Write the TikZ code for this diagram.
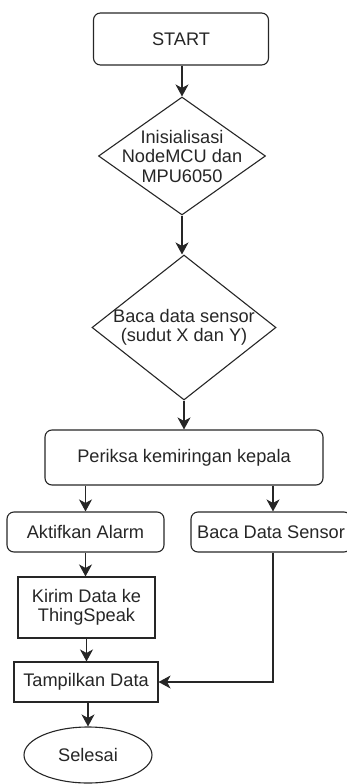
\documentclass[tikz,border=0pt]{standalone}
\usepackage{fontspec}
\setmainfont{Liberation Sans}
\usetikzlibrary{shapes.geometric,arrows.meta}

\tikzset{
  base/.style={draw=black!85, line width=1.1pt, inner sep=0pt, text=black!85,
               font=\fontsize{18.2}{19.5}\selectfont, align=center},
  roundbox/.style={base, rectangle, rounded corners=7pt},
  plainbox/.style={base, rectangle},
  decision/.style={base, diamond},
  terminal/.style={base, ellipse},
  label/.style={text=black!85, font=\fontsize{18.2}{19.5}\selectfont, align=center, inner sep=0pt},
  flow/.style={draw=black!85, line width=1.1pt,
               -{Stealth[length=12pt, width=13pt, inset=3.5pt]}}
}

\begin{document}
\begin{tikzpicture}[x=1pt, y=-1pt]
  \useasboundingbox (0,0) rectangle (347,784);

  % main column
  \node[roundbox, minimum width=175, minimum height=52] (start) at (181,39) {START};

  \node[decision, minimum width=167, minimum height=118] (init) at (182,156) {};
  \node[label] (initText) at (init) {Inisialisasi\\NodeMCU dan\\MPU6050};

  \node[decision, minimum width=184, minimum height=145] (read) at (184,327.5) {};
  \node[label] (readText) at (read) {Baca data sensor\\(sudut X dan Y)};

  \node[roundbox, minimum width=278, minimum height=55] (check) at (184,457.5) {Periksa kemiringan kepala};

  % left branch
  \node[roundbox, minimum width=157, minimum height=40] (alarm) at (85.5,532) {Aktifkan Alarm};
  \node[plainbox, minimum width=137, minimum height=61] (send) at (86.5,607.5) {Kirim Data ke\\ThingSpeak};
  \node[plainbox, minimum width=144, minimum height=40] (show) at (86,682) {Tampilkan Data};
  \node[terminal, minimum width=128, minimum height=56] (done) at (88,755) {Selesai};

  % right branch
  \node[roundbox, minimum width=160, minimum height=40] (sensor) at (271,532) {Baca Data Sensor};
  \coordinate (sensorIn) at ([xshift=2pt]sensor.north);
  \coordinate (sensorOut) at ([xshift=2pt]sensor.south);

  % connectors
  \draw[flow] (start.south -| init.north) -- (init.north);
  \draw[flow] (init.south) -- (init.south |- read.north);
  \draw[flow] (read.south) -- (check.north);
  \draw[flow] (alarm.north |- check.south) -- (alarm.north);
  \draw[flow] (sensorIn |- check.south) -- (sensorIn);
  \draw[flow] (alarm.south) -- (alarm.south |- send.north);
  \draw[flow] (send.south) -- (send.south |- show.north);
  \draw[flow] (show.south -| done.north) -- (done.north);
  \draw[flow] (sensorOut) |- (show.east);
\end{tikzpicture}
\end{document}
